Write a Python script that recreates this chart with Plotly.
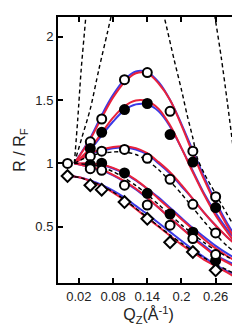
import plotly.graph_objects as go

# ---- measured points ----
q_pts = [0.0, 0.04, 0.06, 0.10, 0.14, 0.18, 0.22, 0.26]
q_pts7 = [0.04, 0.06, 0.10, 0.14, 0.18, 0.22, 0.26]
A_open = [1.0, 1.17, 1.35, 1.66, 1.716, 1.41, 1.096, 0.737]
B_filled = [1.117, 1.245, 1.424, 1.472, 1.227, 1.01, 0.652]
C_open = [1.057, 1.096, 1.11, 1.04, 0.875, 0.677, 0.452]
D_filled = [0.99, 1.002, 0.925, 0.764, 0.601, 0.457, 0.234]
E_open = [0.958, 0.945, 0.828, 0.672, 0.513, 0.407, 0.281]
F_diamond = [0.9, 0.828, 0.793, 0.695, 0.563, 0.378, 0.301, 0.157]

# ---- fitted curves ----
q_fit = [0.012, 0.04, 0.06, 0.08, 0.10, 0.12, 0.14, 0.16, 0.18, 0.20, 0.22, 0.24, 0.26, 0.28, 0.30]
q_fitF = [0.0, 0.02, 0.04, 0.06, 0.08, 0.10, 0.12, 0.14, 0.16, 0.18, 0.20, 0.22, 0.24, 0.26, 0.28, 0.30]

A_red = [1.0, 1.19, 1.36, 1.52, 1.64, 1.71, 1.71, 1.63, 1.50, 1.30, 1.08, 0.87, 0.68, 0.51, 0.36]
A_blue = [1.0, 1.20, 1.38, 1.54, 1.66, 1.725, 1.72, 1.64, 1.50, 1.31, 1.10, 0.89, 0.70, 0.53, 0.39]
B_red = [1.0, 1.12, 1.24, 1.36, 1.45, 1.495, 1.49, 1.43, 1.30, 1.12, 0.93, 0.75, 0.59, 0.46, 0.34]
B_blue = [1.0, 1.11, 1.22, 1.33, 1.42, 1.465, 1.465, 1.41, 1.29, 1.12, 0.94, 0.76, 0.61, 0.48, 0.37]
C_red = [1.0, 1.08, 1.11, 1.13, 1.135, 1.12, 1.08, 1.01, 0.93, 0.83, 0.72, 0.61, 0.51, 0.42, 0.34]
C_blue = [1.0, 1.075, 1.10, 1.12, 1.125, 1.11, 1.07, 1.00, 0.92, 0.82, 0.72, 0.61, 0.51, 0.42, 0.35]
D_red = [1.0, 1.0, 0.99, 0.965, 0.925, 0.87, 0.80, 0.72, 0.64, 0.56, 0.48, 0.40, 0.33, 0.27, 0.22]
D_blue = [1.0, 0.995, 0.985, 0.96, 0.92, 0.865, 0.80, 0.73, 0.65, 0.57, 0.49, 0.42, 0.35, 0.29, 0.24]
E_red = [1.0, 0.97, 0.95, 0.91, 0.86, 0.80, 0.73, 0.65, 0.57, 0.49, 0.41, 0.34, 0.27, 0.22, 0.17]
E_blue = [1.0, 0.97, 0.945, 0.905, 0.855, 0.795, 0.725, 0.65, 0.57, 0.49, 0.42, 0.35, 0.28, 0.23, 0.19]
F_red = [0.9, 0.89, 0.86, 0.82, 0.77, 0.71, 0.64, 0.57, 0.50, 0.43, 0.36, 0.30, 0.24, 0.19, 0.14, 0.09]
F_blue = [0.9, 0.89, 0.865, 0.83, 0.785, 0.73, 0.665, 0.60, 0.53, 0.46, 0.39, 0.32, 0.26, 0.20, 0.15, 0.11]

# ---- dashed model curves ----
q_w = [0.012, 0.018, 0.024, 0.032, 0.04, 0.06, 0.15, 0.24, 0.25, 0.26, 0.27, 0.28, 0.29, 0.30]
dash_wide = [1.0, 1.35, 1.74, 2.15, 2.6, 3.4, 5.0, 2.7, 2.4, 2.12, 1.83, 1.5, 1.15, 0.78]
q_n = [0.012, 0.025, 0.04, 0.055, 0.07, 0.08, 0.10, 0.12, 0.14, 0.16, 0.17, 0.187, 0.20, 0.21, 0.22, 0.228, 0.24, 0.26, 0.28, 0.30]
dash_narrow = [1.0, 1.2, 1.43, 1.74, 2.03, 2.22, 2.5, 2.62, 2.55, 2.33, 2.15, 1.82, 1.58, 1.38, 1.2, 1.04, 0.92, 0.76, 0.6, 0.45]
dash_C = [1.0, 1.06, 1.08, 1.09, 1.09, 1.07, 1.02, 0.95, 0.86, 0.76, 0.65, 0.54, 0.44, 0.35, 0.28]
dash_D = [1.0, 0.99, 0.97, 0.935, 0.885, 0.825, 0.755, 0.675, 0.595, 0.515, 0.445, 0.375, 0.315, 0.265, 0.22]
dash_F = [0.9, 0.89, 0.86, 0.825, 0.775, 0.715, 0.645, 0.575, 0.505, 0.435, 0.37, 0.31, 0.255, 0.205, 0.16, 0.12]

x_ticks = [0.02, 0.08, 0.14, 0.2, 0.26]
x_ticklabels = ["0.02", "0.08", "0.14", "0.2", "0.26"]
y_ticks = [0.5, 1, 1.5, 2]
y_ticklabels = ["0.5", "1", "1.5", "2"]

RED = "#e8223c"
BLUE = "#3a3ae6"

fig = go.Figure()

def line(x, y, color, width=2, dash=None):
    fig.add_trace(go.Scatter(x=x, y=y, mode="lines",
                             line=dict(color=color, width=width, dash=dash, shape="spline", smoothing=1.0),
                             showlegend=False, hoverinfo="skip"))

for xs, ys in [(q_fit, A_blue), (q_fit, B_blue), (q_fit, C_blue), (q_fit, D_blue), (q_fit, E_blue), (q_fitF, F_blue)]:
    line(xs, ys, BLUE)
for xs, ys in [(q_fit, A_red), (q_fit, B_red), (q_fit, C_red), (q_fit, D_red), (q_fit, E_red), (q_fitF, F_red)]:
    line(xs, ys, RED)
for xs, ys in [(q_w, dash_wide), (q_n, dash_narrow), (q_fit, dash_C), (q_fit, dash_D), (q_fitF, dash_F)]:
    fig.add_trace(go.Scatter(x=xs, y=ys, mode="lines",
                             line=dict(color="black", width=1.4, dash="4px,3px", shape="spline", smoothing=0.8),
                             showlegend=False, hoverinfo="skip"))

def pts(x, y, symbol, fill, size=9):
    fig.add_trace(go.Scatter(x=x, y=y, mode="markers",
                             marker=dict(symbol=symbol, size=size, color=fill,
                                         line=dict(color="black", width=2)),
                             showlegend=False, hoverinfo="skip"))

pts(q_pts, A_open, "circle", "white")
pts(q_pts7, B_filled, "circle", "black")
pts(q_pts7, C_open, "circle", "white")
pts(q_pts7, D_filled, "circle", "black")
pts(q_pts7, E_open, "circle", "white")
pts(q_pts, F_diamond, "diamond", "white", 9)

FAM = "Liberation Sans, Arial, sans-serif"
font = dict(family=FAM, size=13, color="#222")
axis_common = dict(showline=True, linecolor="black", linewidth=2, mirror="all",
                   ticks="inside", ticklen=5, tickwidth=1.5, tickcolor="black",
                   showgrid=False, zeroline=False, tickfont=font)

fig.update_layout(
    width=240, height=327,
    margin=dict(l=50, r=8, t=7, b=52),
    plot_bgcolor="white", paper_bgcolor="white",
    xaxis=dict(range=[-0.0167, 0.301], tickvals=x_ticks, ticktext=x_ticklabels,
               title=dict(text="Q<sub>Z</sub>(Å<sup>-1</sup>)", font=dict(family=FAM, size=16, color="#222"), standoff=2),
               **axis_common),
    yaxis=dict(range=[0.057, 2.154], tickvals=y_ticks, ticktext=y_ticklabels,
               title=dict(text="R / R<sub>F</sub>", font=dict(family=FAM, size=16, color="#222"), standoff=6),
               **axis_common),
)

fig.write_html("out.html")
